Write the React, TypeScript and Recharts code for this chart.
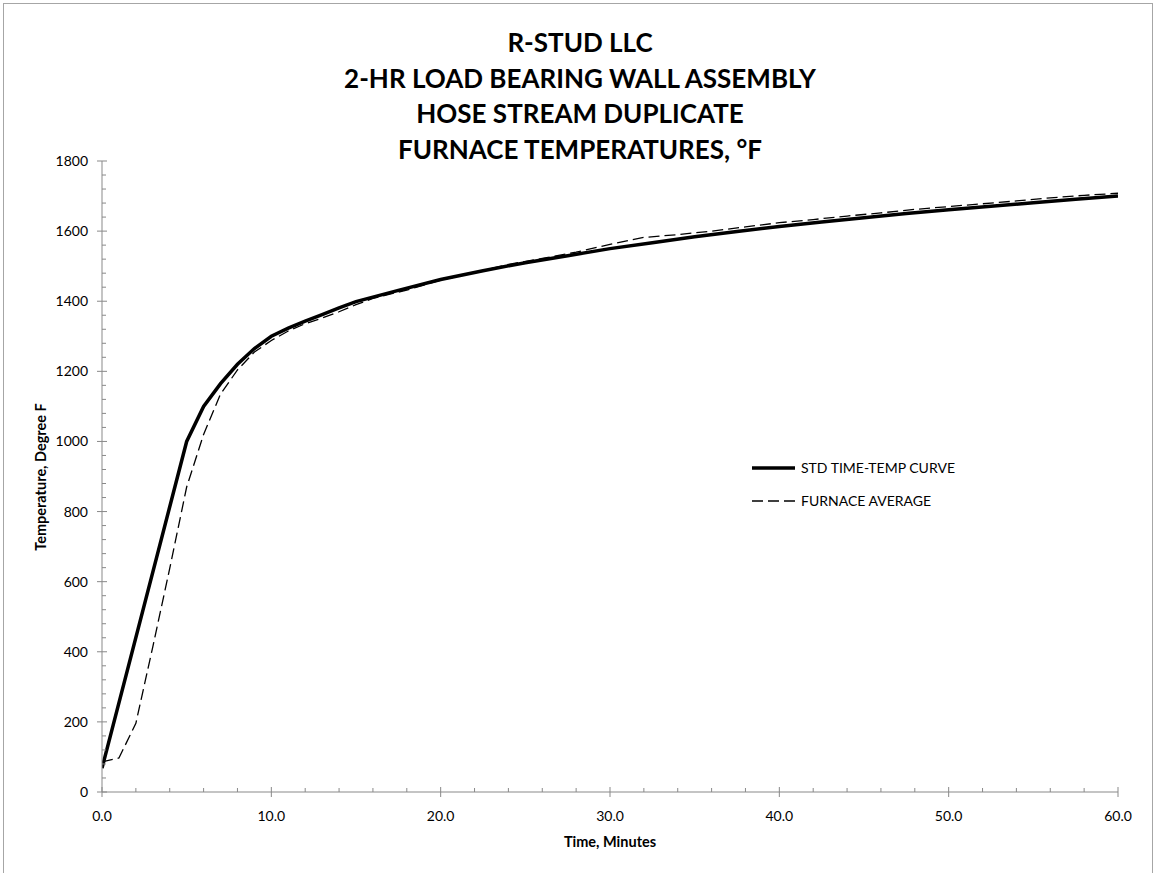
import React from 'react';
import { LineChart, Line, XAxis, YAxis } from 'recharts';

const stdTime = [0, 5, 6, 7, 8, 9, 10, 11, 12, 13, 14, 15, 17.5, 20, 22.5, 25, 27.5, 30, 32.5, 35, 37.5, 40, 42.5, 45, 47.5, 50, 52.5, 55, 57.5, 60];
const stdTemp = [68, 1000, 1100, 1165, 1220, 1265, 1300, 1323, 1343, 1362, 1381, 1399, 1431, 1462, 1487, 1510, 1530, 1550, 1567, 1584, 1599, 1613, 1626, 1638, 1650, 1661, 1671, 1681, 1691, 1700];

const furnaceTime = [0, 1, 2, 3, 4, 5, 6, 7, 8, 9, 10, 11, 12, 13, 14, 15, 16, 18, 20, 22, 24, 26, 28, 30, 32, 34, 36, 38, 40, 42, 44, 46, 48, 50, 52, 54, 56, 58, 60];
const furnaceTemp = [86, 97, 196, 414, 638, 870, 1020, 1135, 1204, 1255, 1288, 1315, 1336, 1352, 1370, 1390, 1408, 1432, 1460, 1482, 1505, 1522, 1540, 1562, 1582, 1590, 1600, 1612, 1624, 1633, 1643, 1652, 1662, 1670, 1678, 1686, 1695, 1702, 1708];

const xTicks = Array.from({ length: 31 }, (_, i) => i * 2);
const yTicks = Array.from({ length: 46 }, (_, i) => i * 40);

const titleLines = ['R-STUD LLC', '2-HR LOAD BEARING WALL ASSEMBLY', 'HOSE STREAM DUPLICATE', 'FURNACE TEMPERATURES, °F'];
const seriesNames = ['STD TIME-TEMP CURVE', 'FURNACE AVERAGE'];

const stdData = stdTime.map((t, i) => ({ t, v: stdTemp[i] }));
const furnaceData = furnaceTime.map((t, i) => ({ t, v: furnaceTemp[i] }));

const FONT = 'Lato, "Open Sans", sans-serif';
const AXIS = '#898989';

const XTick = (props: any) => {
  const { x, y, payload } = props;
  const v = payload.value as number;
  const major = v % 10 === 0;
  return (
    <g>
      <line x1={x} x2={x} y1={major ? y - 5 : y - 4} y2={major ? y + 5 : y} stroke={AXIS} strokeWidth={1} />
      {major && (
        <text x={x} y={y + 29} textAnchor="middle" fontFamily={FONT} fontSize={14} fill="#000">
          {v.toFixed(1)}
        </text>
      )}
    </g>
  );
};

const YTick = (props: any) => {
  const { x, y, payload } = props;
  const v = payload.value as number;
  const major = v % 200 === 0;
  return (
    <g>
      <line x1={major ? x - 5 : x} x2={major ? x + 5 : x + 4} y1={y} y2={y} stroke={AXIS} strokeWidth={1} />
      {major && (
        <text x={x - 14} y={y + 5} textAnchor="end" fontFamily={FONT} fontSize={14} fill="#000">
          {v}
        </text>
      )}
    </g>
  );
};

export default function App() {
  return (
    <div style={{ position: 'absolute', left: 0, top: 0, width: 1158, height: 873, background: '#fff', overflow: 'hidden' }}>
      <div style={{ position: 'absolute', left: 3, top: 3, width: 1150, height: 880, border: '1px solid #a6a6a6', boxSizing: 'border-box' }} />
      <LineChart width={1158} height={873} margin={{ top: 161, right: 40, left: 0, bottom: 0 }}>
        <XAxis
          dataKey="t"
          type="number"
          domain={[0, 60]}
          ticks={xTicks}
          interval={0}
          height={81}
          tickSize={0}
          tickMargin={0}
          tickLine={false}
          axisLine={{ stroke: AXIS, strokeWidth: 1 }}
          tick={<XTick />}
          allowDataOverflow
        />
        <YAxis
          dataKey="v"
          type="number"
          domain={[0, 1800]}
          ticks={yTicks}
          interval={0}
          width={102}
          tickSize={0}
          tickMargin={0}
          tickLine={false}
          axisLine={{ stroke: AXIS, strokeWidth: 1 }}
          tick={<YTick />}
          allowDataOverflow
        />
        <Line
          data={stdData}
          dataKey="v"
          name={seriesNames[0]}
          type="linear"
          stroke="#000"
          strokeWidth={3.5}
          dot={false}
          activeDot={false}
          isAnimationActive={false}
        />
        <Line
          data={furnaceData}
          dataKey="v"
          name={seriesNames[1]}
          type="linear"
          stroke="#000"
          strokeWidth={1.3}
          strokeDasharray="11 5"
          dot={false}
          activeDot={false}
          isAnimationActive={false}
        />
      </LineChart>
      <svg width={1158} height={873} style={{ position: 'absolute', left: 0, top: 0, pointerEvents: 'none' }}>
        {titleLines.map((s, i) => (
          <text
            key={i}
            x={580}
            y={52 + i * 35.7}
            textAnchor="middle"
            fontFamily={FONT}
            fontWeight="bold"
            fontSize={26}
            fill="#000"
          >
            {s}
          </text>
        ))}
        <g fontFamily={FONT} fontSize={14} fill="#000">
          <line x1={752} x2={795} y1={468} y2={468} stroke="#000" strokeWidth={3.5} />
          <text x={801} y={473}>{seriesNames[0]}</text>
          <line x1={752} x2={795} y1={501} y2={501} stroke="#000" strokeWidth={1.3} strokeDasharray="11 5" />
          <text x={801} y={506}>{seriesNames[1]}</text>
        </g>
        <text x={610} y={847} textAnchor="middle" fontFamily={FONT} fontWeight="bold" fontSize={14.5} fill="#000">
          Time, Minutes
        </text>
        <text
          x={0}
          y={0}
          transform="translate(46,477) rotate(-90)"
          textAnchor="middle"
          fontFamily={FONT}
          fontWeight="bold"
          fontSize={14.5}
          fill="#000"
        >
          Temperature, Degree F
        </text>
      </svg>
    </div>
  );
}
